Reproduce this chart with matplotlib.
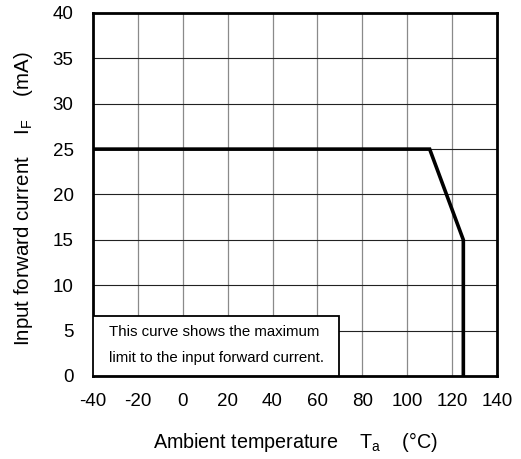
import matplotlib
matplotlib.use("Agg")
import matplotlib.pyplot as plt
from matplotlib.patches import Rectangle

plt.rcParams['font.family'] = ['Liberation Sans', 'DejaVu Sans']
plt.rcParams['axes.unicode_minus'] = False

temp = [-40, 110, 125, 125]
current = [25, 25, 15, 0]
xticks = [-40, -20, 0, 20, 40, 60, 80, 100, 120, 140]
yticks = [0, 5, 10, 15, 20, 25, 30, 35, 40]
note_lines = ["This curve shows the maximum", "limit to the input forward current."]

fig = plt.figure(figsize=(5.21, 4.59), dpi=100)
ax = fig.add_axes([93/521, 83/459, 404/521, 363/459])
ax.set_xlim(-40, 140)
ax.set_ylim(0, 40)
ax.set_xticks(xticks)
ax.set_yticks(yticks)
ax.tick_params(length=0, labelsize=13.5)
ax.tick_params(axis='x', pad=12.5)
ax.tick_params(axis='y', pad=14)

for x in xticks[1:-1]:
    ax.axvline(x, color='#8a8a8a', lw=0.9, zorder=1)
for y in yticks[1:-1]:
    ax.axhline(y, color='#222222', lw=0.8, zorder=1)

for s in ax.spines.values():
    s.set_linewidth(2.0)
    s.set_color('black')

ax.plot(temp, current, color='black', lw=2.6, zorder=4, solid_joinstyle='miter')

box = Rectangle((0, 0), 0.609, 0.165, transform=ax.transAxes, facecolor='white',
                edgecolor='black', lw=1.3, zorder=3)
ax.add_patch(box)
ax.text(0.04, 0.12, note_lines[0], transform=ax.transAxes, fontsize=10.8,
        va='center', ha='left', zorder=5)
ax.text(0.04, 0.05, note_lines[1], transform=ax.transAxes, fontsize=10.8,
        va='center', ha='left', zorder=5)

ax.set_xlabel(r"Ambient temperature    $\mathregular{T_a}$    (°C)", fontsize=14.2)
ax.xaxis.set_label_coords(0.5, -0.149)
ax.set_ylabel(r"Input forward current    $\mathregular{I_F}$    (mA)", fontsize=14.8)
ax.yaxis.set_label_coords(-0.143, 0.488)

fig.savefig("out.png", dpi=100)
